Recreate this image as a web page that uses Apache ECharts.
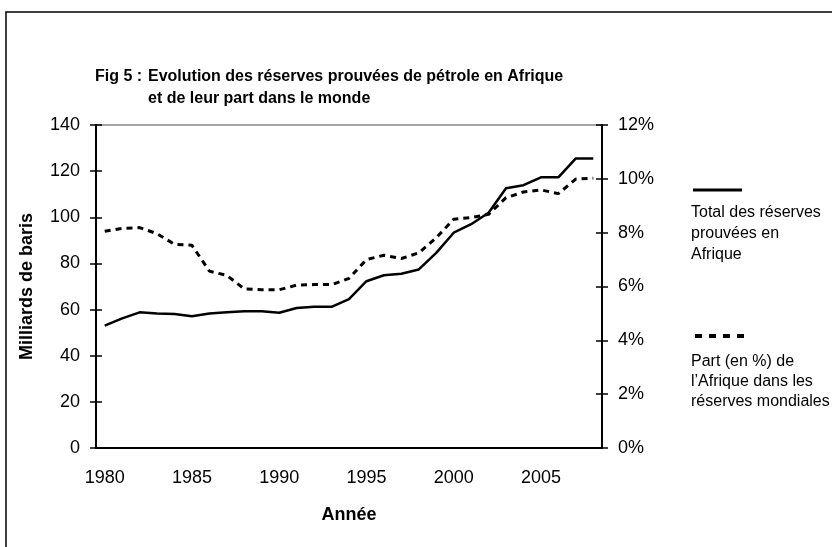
<!DOCTYPE html>
<html>
<head>
<meta charset="utf-8">
<script src="https://cdn.jsdelivr.net/npm/echarts@6/dist/echarts.min.js"></script>
<style>
  html, body { margin: 0; padding: 0; background: #fff; }
  #a { width: 832px; height: 547px; }
</style>
</head>
<body>
<div id="a"></div>
<script>
// données
var annees = ['1980','1981','1982','1983','1984','1985','1986','1987','1988','1989',
              '1990','1991','1992','1993','1994','1995','1996','1997','1998','1999',
              '2000','2001','2002','2003','2004','2005','2006','2007','2008'];
// réserves prouvées, milliards de barils
var reserves = [53.0, 56.2, 58.8, 58.3, 58.1, 57.1, 58.3, 58.8, 59.3, 59.3,
                58.6, 60.7, 61.2, 61.2, 64.5, 72.3, 74.9, 75.5, 77.4, 84.6,
                93.3, 97.0, 102.0, 112.6, 113.9, 117.3, 117.3, 125.5, 125.5];
// part de l'Afrique dans les réserves mondiales, en %
var part = [8.05, 8.16, 8.19, 7.96, 7.57, 7.53, 6.57, 6.41, 5.91, 5.88,
            5.88, 6.05, 6.07, 6.07, 6.3, 7.0, 7.16, 7.04, 7.25, 7.81,
            8.5, 8.56, 8.68, 9.3, 9.51, 9.59, 9.45, 9.99, 10.02];
var ticksGauche = [0, 140, 20];
var ticksDroite = [0, 12, 2];

var police = "'Liberation Sans', Arial, sans-serif";
var myechart = echarts.init(document.getElementById('a'));

option = {
    animation: false,
    backgroundColor: '#fff',
    textStyle: { fontFamily: police, color: '#000' },
    title: [
        { text: 'Fig 5 :', left: 95, top: 66, padding: 0,
          textStyle: { fontSize: 16, fontWeight: 'bold', color: '#000', fontFamily: police, lineHeight: 22 } },
        { text: 'Evolution des réserves prouvées de pétrole en Afrique\net de leur part dans le monde',
          left: 148, top: 66, padding: 0,
          textStyle: { fontSize: 16, fontWeight: 'bold', color: '#000', fontFamily: police, lineHeight: 22 } }
    ],
    grid: {
        left: 96, right: 230, top: 125, bottom: 99,
        show: true, borderColor: '#888', borderWidth: 1.5, backgroundColor: 'transparent'
    },
    xAxis: [
        {
            type: 'category', data: annees, position: 'bottom', boundaryGap: true,
            name: 'Année', nameLocation: 'middle', nameGap: 58,
            nameTextStyle: { fontSize: 18, fontWeight: 'bold', color: '#000' },
            axisLine: { lineStyle: { color: '#000', width: 2 } },
            axisTick: { interval: 0, length: 6, lineStyle: { color: '#000', width: 1.5 } },
            axisLabel: { interval: 4, fontSize: 18, color: '#000', margin: 21 },
            splitLine: { show: false }
        },
        {
            // ticks vers l'intérieur, pour qu'ils traversent l'axe
            type: 'category', data: annees, position: 'bottom', boundaryGap: true,
            axisLine: { show: false },
            axisTick: { interval: 0, inside: true, length: 6, lineStyle: { color: '#000', width: 1.5 } },
            axisLabel: { show: false },
            splitLine: { show: false }
        }
    ],
    yAxis: [
        {
            type: 'value', position: 'left',
            min: ticksGauche[0], max: ticksGauche[1], interval: ticksGauche[2],
            name: 'Milliards de baris', nameLocation: 'middle', nameGap: 60, nameRotate: 90,
            nameTextStyle: { fontSize: 18, fontWeight: 'bold', color: '#000' },
            axisLine: { show: true, lineStyle: { color: '#000', width: 2 } },
            axisTick: { show: true, length: 6, lineStyle: { color: '#000', width: 1.5 } },
            axisLabel: { fontSize: 18, color: '#000', margin: 16 },
            splitLine: { show: false }
        },
        {
            type: 'value', position: 'right',
            min: ticksDroite[0], max: ticksDroite[1], interval: ticksDroite[2],
            axisLine: { show: true, lineStyle: { color: '#000', width: 2 } },
            axisTick: { show: true, length: 6, lineStyle: { color: '#000', width: 1.5 } },
            axisLabel: { fontSize: 18, color: '#000', margin: 16, formatter: '{value}%' },
            splitLine: { show: false }
        },
        {
            type: 'value', position: 'left',
            min: ticksGauche[0], max: ticksGauche[1], interval: ticksGauche[2],
            axisLine: { show: false },
            axisTick: { show: true, inside: true, length: 6, lineStyle: { color: '#000', width: 1.5 } },
            axisLabel: { show: false },
            splitLine: { show: false }
        },
        {
            type: 'value', position: 'right',
            min: ticksDroite[0], max: ticksDroite[1], interval: ticksDroite[2],
            axisLine: { show: false },
            axisTick: { show: true, inside: true, length: 6, lineStyle: { color: '#000', width: 1.5 } },
            axisLabel: { show: false },
            splitLine: { show: false }
        }
    ],
    series: [
        {
            name: 'Total des réserves prouvées en Afrique',
            type: 'line', xAxisIndex: 0, yAxisIndex: 0,
            data: reserves, showSymbol: false, symbol: 'none',
            lineStyle: { color: '#000', width: 2.5 }
        },
        {
            name: "Part (en %) de l'Afrique dans les réserves mondiales",
            type: 'line', xAxisIndex: 0, yAxisIndex: 1,
            data: part, showSymbol: false, symbol: 'none',
            lineStyle: { color: '#000', width: 3, type: [6, 5] }
        }
    ],
    graphic: [
        // cadre
        { type: 'rect', shape: { x: 6, y: 12, width: 860, height: 580 },
          style: { fill: 'none', stroke: '#000', lineWidth: 1.5 }, silent: true },
        // légende
        { type: 'line', shape: { x1: 693, y1: 190, x2: 742, y2: 190 },
          style: { stroke: '#000', lineWidth: 3 } },
        { type: 'text', left: 691, top: 202,
          style: { text: 'Total des réserves\nprouvées en\nAfrique', font: '16px ' + police,
                   fill: '#000', lineHeight: 21 } },
        { type: 'line', shape: { x1: 695, y1: 336, x2: 746, y2: 336 },
          style: { stroke: '#000', lineWidth: 4, lineDash: [7, 7] } },
        { type: 'text', left: 691, top: 352,
          style: { text: 'Part (en %) de\nl\u2019Afrique dans les\nréserves mondiales', font: '16px ' + police,
                   fill: '#000', lineHeight: 20 } }
    ]
};
myechart.setOption(option);
</script>
</body>
</html>
